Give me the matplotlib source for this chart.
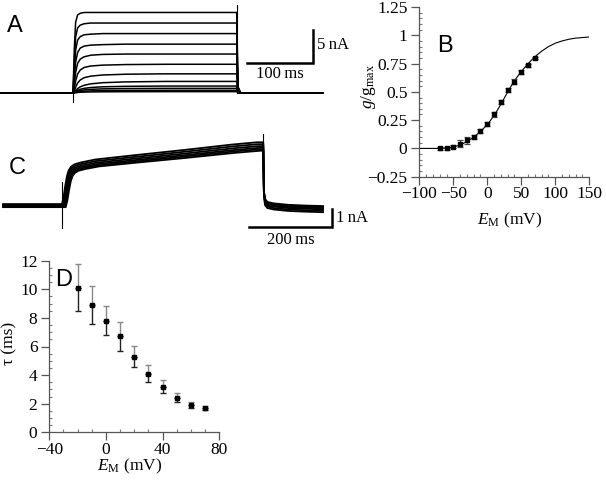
import matplotlib
matplotlib.use("Agg")
import matplotlib.pyplot as plt
from matplotlib.ticker import MultipleLocator, FuncFormatter

# ------- data ----------------------------- #
# A: K+ current family (nA), step 0..248 ms
a_level = [12.2, 10.6, 9.0, 7.4, 5.9, 4.35, 2.9, 1.75, 1.05, 0.7, 0.4, 0.2]
a_rise_t = [0, 2, 4, 7, 11, 17, 27, 45, 80, 140]
a_rise = [
    [0, 0.55, 0.88, 0.97, 0.99, 1, 1, 1, 1, 1],
    [0, 0.45, 0.80, 0.93, 0.97, 0.99, 1, 1, 1, 1],
    [0, 0.38, 0.72, 0.89, 0.95, 0.98, 0.99, 1, 1, 1],
    [0, 0.30, 0.63, 0.83, 0.92, 0.96, 0.98, 0.99, 1, 1],
    [0, 0.22, 0.53, 0.76, 0.87, 0.93, 0.97, 0.99, 1, 1],
    [0, 0.15, 0.42, 0.66, 0.80, 0.89, 0.94, 0.97, 0.99, 1],
    [0, 0.10, 0.30, 0.52, 0.68, 0.80, 0.88, 0.94, 0.98, 1],
    [0, 0.06, 0.20, 0.38, 0.53, 0.67, 0.79, 0.89, 0.96, 1],
    [0, 0.06, 0.20, 0.38, 0.53, 0.67, 0.79, 0.89, 0.96, 1],
    [0, 0.06, 0.20, 0.38, 0.53, 0.67, 0.79, 0.89, 0.96, 1],
    [0, 0.06, 0.20, 0.38, 0.53, 0.67, 0.79, 0.89, 0.96, 1],
    [0, 0.06, 0.20, 0.38, 0.53, 0.67, 0.79, 0.89, 0.96, 1],
]
a_t0, a_tend, a_t1 = -110, 248, 378
a_on_dip, a_off_peak = -1.3, 13.3

# B: normalised conductance vs voltage
b_v = [-70, -60, -50, -40, -30, -20, -10, 0, 10, 20, 30, 40, 50, 60, 70]
b_g = [0.0, 0.0, 0.015, 0.04, 0.07, 0.10, 0.155, 0.215, 0.30, 0.41, 0.515,
       0.59, 0.675, 0.735, 0.80]
b_err = [0.012, 0.012, 0.015, 0.03, 0.035, 0.02, 0.02, 0.02, 0.02, 0.02,
         0.02, 0.02, 0.02, 0.015, 0.012]
b_fit_v = list(range(-100, 151, 10))
b_fit_g = [0, 0, 0, 0, 0.003, 0.012, 0.03, 0.06, 0.10, 0.15, 0.21, 0.29,
           0.39, 0.50, 0.60, 0.68, 0.75, 0.81, 0.86, 0.90, 0.93, 0.95,
           0.965, 0.975, 0.98, 0.985]

# C: current family (nA), step 0..485 ms
c_rise_t = [0, 4, 8, 12, 16, 22, 30, 45, 80, 170, 290, 410, 470]
c_rise = [0, 0.4, 1.0, 1.5, 1.8, 2.0, 2.12, 2.22, 2.38, 2.6, 2.88, 3.18, 3.3]
c_delay = [0, 1.5, 3, 5, 7, 9]
c_scale = [1.04, 1.02, 1.0, 0.98, 0.965, 0.95]
c_base = [0.08, 0.04, 0.0, -0.03, -0.06, -0.09]
c_tail_t = [1.5, 4, 10, 25, 60, 100, 144]
c_tail = [0.8, 0.25, 0.08, 0.0, -0.08, -0.12, -0.15]
c_tail_off = [0.12, 0.06, 0.0, -0.06, -0.14, -0.22]
c_t0, c_tend = -142, 485
c_on_art = (-1.25, 1.3)
c_off_peak = 4.0

# D: activation time constant
d_v = [-20, -10, 0, 10, 20, 30, 40, 50, 60, 70]
d_tau = [10.1, 8.9, 7.8, 6.7, 5.3, 4.1, 3.2, 2.4, 1.9, 1.7]
d_up = [1.65, 1.3, 1.0, 1.0, 0.75, 0.6, 0.45, 0.35, 0.2, 0.17]
d_dn = [1.65, 1.3, 1.0, 1.0, 0.75, 0.6, 0.45, 0.3, 0.2, 0.15]

# ------- style --------- #
plt.rcParams["font.family"] = ["Liberation Serif", "DejaVu Serif"]
plt.rcParams["mathtext.fontset"] = "custom"
plt.rcParams["mathtext.rm"] = "Liberation Serif"
plt.rcParams["mathtext.it"] = "Liberation Serif:italic"
plt.rcParams["axes.unicode_minus"] = True

W, H = 606, 482
GREY = "#555555"
TICK_FS = 12.5
LAB_FS = 12.5


def box(x0, y0, x1, y1):
    return [x0 / W, 1 - y1 / H, (x1 - x0) / W, (y1 - y0) / H]


def style(ax):
    for s in ("top", "right"):
        ax.spines[s].set_visible(False)
    for s in ("left", "bottom"):
        ax.spines[s].set_color(GREY)
        ax.spines[s].set_linewidth(0.9)
    ax.tick_params(which="major", direction="out", length=5.5, width=0.9,
                   color=GREY, labelsize=TICK_FS)
    ax.tick_params(axis="y", which="major", pad=3)
    ax.tick_params(axis="x", which="major", pad=1.5)
    ax.tick_params(which="minor", direction="in", length=2.5, width=0.8,
                   color="#777777")
    fmt = FuncFormatter(lambda v, p: ("%g" % v).replace("-", "\u2212"))
    ax.xaxis.set_major_formatter(fmt)
    ax.yaxis.set_major_formatter(fmt)


fig = plt.figure(figsize=(6.06, 4.82), dpi=100)

# ------- A --------- #
ax_a = fig.add_axes(box(0, 0, 330, 110))
ax_a.set_xlim(-110.6, 389.4)
ax_a.set_ylim(-2.58, 14.09)
ax_a.axis("off")
for lvl, frac in zip(a_level, a_rise):
    t = [a_t0] + a_rise_t + [a_tend, a_tend + 2, a_tend + 6, a_t1]
    i = [0] + [lvl * f for f in frac] + [lvl, lvl * 0.08, 0, 0]
    ax_a.plot(t, i, color="black", lw=1.1)
ax_a.plot([0, 0], [0, a_on_dip], color="black", lw=0.8)
ax_a.plot([a_tend, a_tend], [0, a_off_peak], color="black", lw=0.8)
ax_a.plot([263.6, 363.6, 363.6], [4.55, 4.55, 9.55], color="black", lw=1.8,
          solid_joinstyle="miter")
ax_a.text(370, 7.3, "5\u2009nA", fontsize=12, va="center", ha="left")
ax_a.text(313.6, 2.9, "100\u2009ms", fontsize=12, va="center", ha="center")

# ------- C --------- #
ax_c = fig.add_axes(box(0, 120, 370, 250))
ax_c.set_xlim(-149.4, 742.2)
ax_c.set_ylim(-2.47, 4.75)
ax_c.axis("off")
for d, s, b, o in zip(c_delay, c_scale, c_base, c_tail_off):
    t = [c_t0] + [d + x for x in c_rise_t] + [c_tend]
    i = [b] + [b + s * x for x in c_rise] + [b + s * c_rise[-1]]
    t += [c_tend + x for x in c_tail_t]
    i += [x + o * (k > 0) for k, x in enumerate(c_tail)]
    ax_c.plot(t, i, color="black", lw=1.3)
ax_c.plot([-1, -1], list(c_on_art), color="black", lw=0.8)
ax_c.plot([c_tend, c_tend], [3.3, c_off_peak], color="black", lw=0.8)
ax_c.plot([450.6, 650.6, 650.6], [-1.19, -1.19, -0.19], color="black", lw=1.8,
          solid_joinstyle="miter")
ax_c.text(660, -0.7, "1\u2009nA", fontsize=12, va="center", ha="left")
ax_c.text(550.6, -1.92, "200\u2009ms", fontsize=12, va="center", ha="center")

# ------- B --------- #
ax_b = fig.add_axes(box(419.3, 7, 589.3, 176.7))
style(ax_b)
ax_b.plot(b_fit_v, b_fit_g, color="black", lw=0.8)
ax_b.errorbar(b_v, b_g, yerr=b_err, fmt="s", ms=2.5, color="black",
              ecolor="#444444", elinewidth=0.9, capsize=2, capthick=0.9)
ax_b.set_xlim(-100, 150)
ax_b.set_ylim(-0.25, 1.25)
ax_b.set_xticks([-100, -50, 0, 50, 100, 150])
ax_b.set_yticks([-0.25, 0, 0.25, 0.5, 0.75, 1, 1.25])
ax_b.xaxis.set_minor_locator(MultipleLocator(10))
ax_b.yaxis.set_minor_locator(MultipleLocator(0.05))
ax_b.set_xlabel(r"$E_{\mathrm{M}}$ (mV)", fontsize=LAB_FS, va="center")
ax_b.xaxis.set_label_coords(0.53, -0.255)
ax_b.set_ylabel(r"$g/\mathrm{g}_{\mathrm{max}}$", fontsize=LAB_FS, va="center")
ax_b.yaxis.set_label_coords(-0.30, 0.53)

# ------- D --------- #
ax_d = fig.add_axes(box(49.3, 260.7, 219.3, 432.3))
style(ax_d)
ax_d.errorbar(d_v, d_tau, yerr=[[0] * len(d_up), d_up], fmt="none",
              ecolor="#888888", elinewidth=1.0, capsize=2.2, capthick=1.0)
ax_d.errorbar(d_v, d_tau, yerr=[d_dn, [0] * len(d_dn)], fmt="none",
              ecolor="#222222", elinewidth=1.0, capsize=2.2, capthick=1.0)
ax_d.plot(d_v, d_tau, "s", ms=3.2, color="black")
ax_d.set_xlim(-40, 80)
ax_d.set_ylim(0, 12)
ax_d.set_xticks([-40, 0, 40, 80])
ax_d.set_yticks(range(0, 13, 2))
ax_d.xaxis.set_minor_locator(MultipleLocator(10))
ax_d.yaxis.set_minor_locator(MultipleLocator(0.5))
ax_d.set_xlabel(r"$E_{\mathrm{M}}$ (mV)", fontsize=LAB_FS, va="center")
ax_d.xaxis.set_label_coords(0.47, -0.20)
ax_d.set_ylabel("\u03c4 (ms)", fontsize=LAB_FS, va="center")
ax_d.yaxis.set_label_coords(-0.235, 0.52)

# ------- panel letters --------- #
for lab, x, y in [("A", 15, 26), ("B", 445, 46), ("C", 17, 168), ("D", 64, 280)]:
    fig.text(x / W, 1 - y / H, lab, fontsize=17, family="Liberation Sans",
             ha="center", va="center")

fig.savefig("out.png", dpi=100)
